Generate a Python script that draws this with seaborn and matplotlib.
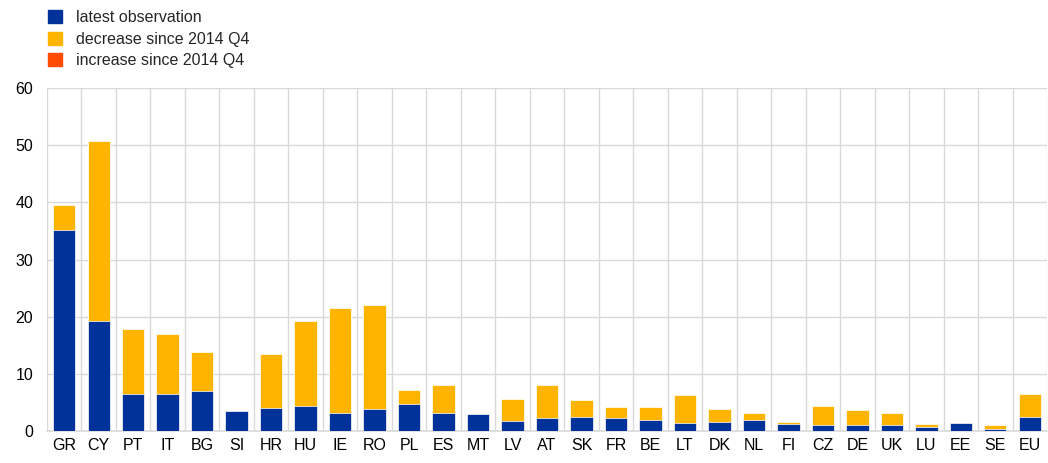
import pandas as pd
import numpy as np
import matplotlib
matplotlib.use("Agg")
import matplotlib.pyplot as plt
import seaborn as sns
from matplotlib.patches import Patch

sns.set_theme(style="white")
plt.rcParams['font.family'] = ['Liberation Sans', 'DejaVu Sans']

# values
countries = ["GR", "CY", "PT", "IT", "BG", "SI", "HR", "HU", "IE", "RO",
             "PL", "ES", "MT", "LV", "AT", "SK", "FR", "BE", "LT", "DK",
             "NL", "FI", "CZ", "DE", "UK", "LU", "EE", "SE", "EU"]
latest = [35.1, 19.3, 6.4, 6.5, 7.05, 3.55, 4.1, 4.4, 3.2, 3.9,
          4.7, 3.1, 3.0, 1.8, 2.2, 2.5, 2.35, 1.9, 1.35, 1.65,
          1.9, 1.3, 1.1, 1.1, 1.1, 0.75, 1.4, 0.4, 2.5]
q4_2014 = [39.6, 50.8, 17.9, 16.9, 13.8, 3.55, 13.5, 19.3, 21.5, 22.1,
           7.2, 8.0, 3.0, 5.6, 8.0, 5.35, 4.2, 4.2, 6.3, 3.8,
           3.2, 1.5, 4.4, 3.6, 3.2, 1.25, 1.4, 1.05, 6.4]

BLUE = "#003299"
YELLOW = "#FFB400"
ORANGE = "#FF4B00"
GRID = "#d9d9d9"

df = pd.DataFrame({"country": countries, "latest": latest, "q4_2014": q4_2014})

fig = plt.figure(figsize=(10.48, 4.63), dpi=100)
ax = fig.add_axes([47 / 1048, 1 - 431 / 463, 1000 / 1048, 343 / 463])

sns.barplot(data=df, x="country", y="q4_2014", order=countries, color=YELLOW,
            width=0.65, saturation=1, ax=ax, zorder=3,
            edgecolor="#ffffff", linewidth=0.5)
sns.barplot(data=df, x="country", y="latest", order=countries, color=BLUE,
            width=0.65, saturation=1, ax=ax, zorder=4,
            edgecolor="#ffffff", linewidth=0.5)

ax.set_xlim(-0.5, len(countries) - 0.5)
ax.set_ylim(0, 60)
ax.set_yticks(range(0, 61, 10))
ax.set_xlabel("")
ax.set_ylabel("")

# vertical separators between categories
ax.set_xticks(np.arange(-0.5, len(countries), 1), minor=True)
ax.grid(axis="x", which="minor", color=GRID, linewidth=1, zorder=0)
ax.grid(axis="y", which="major", color=GRID, linewidth=1, zorder=0)
ax.grid(axis="x", which="major", visible=False)

for s in ["top", "right", "left"]:
    ax.spines[s].set_visible(False)
ax.spines["bottom"].set_color(GRID)
ax.spines["bottom"].set_linewidth(1.2)

ax.tick_params(axis="both", which="both", length=0, labelsize=11.5, colors="#000000")
ax.tick_params(axis="y", pad=10)
ax.tick_params(axis="x", pad=5)

handles = [Patch(color=BLUE, label="latest observation"),
           Patch(color=YELLOW, label="decrease since 2014 Q4"),
           Patch(color=ORANGE, label="increase since 2014 Q4")]
fig.legend(handles=handles, loc="upper left", bbox_to_anchor=(38 / 1048, 1.0),
           frameon=False, fontsize=11.5, handlelength=0.85, handleheight=0.85,
           handletextpad=0.9, labelspacing=0.4, borderaxespad=0.25)

fig.savefig("out.png", dpi=100)
